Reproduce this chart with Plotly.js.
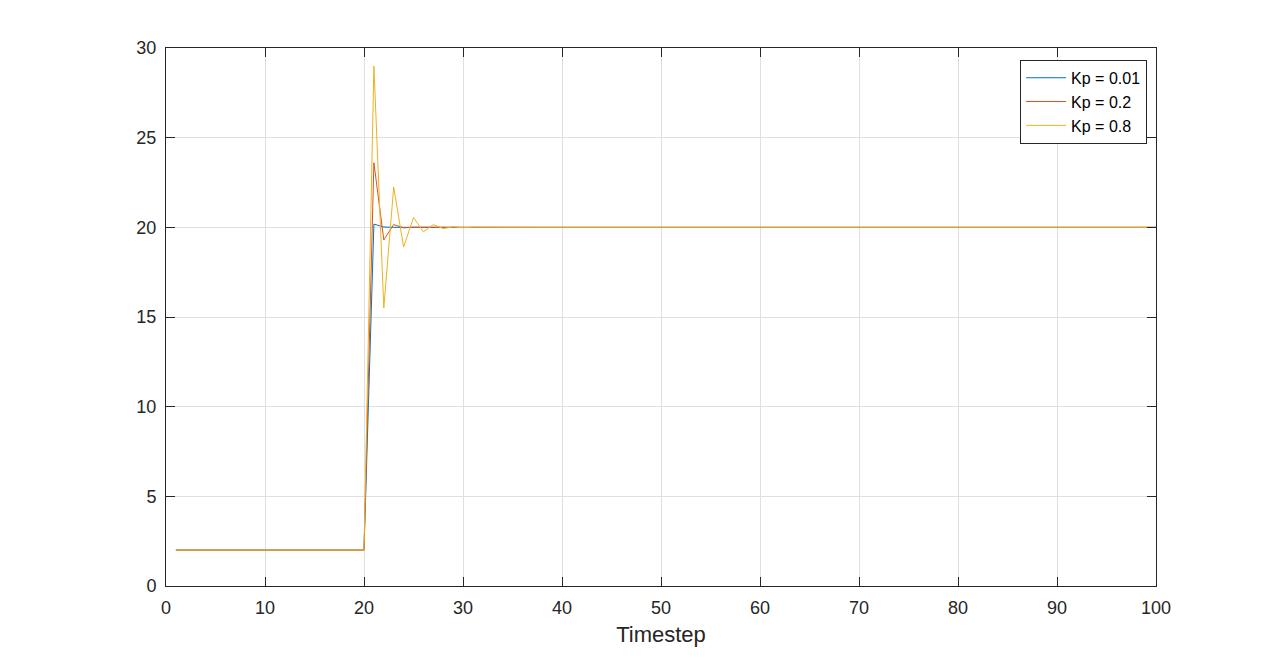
<!DOCTYPE html>
<html>
<head>
<meta charset="utf-8">
<script src="https://cdn.plot.ly/plotly-3.0.1.min.js"></script>
<style>html,body{margin:0;padding:0;background:#fff;}#chart{width:1278px;height:660px;}</style>
</head>
<body>
<div id="chart"></div>
<script>
var timestep = [1,2,3,4,5,6,7,8,9,10,11,12,13,14,15,16,17,18,19,20,21,22,23,24,25,26,27,28,29,30,31,32,33,34,35,36,37,38,39,40,41,42,43,44,45,46,47,48,49,50,51,52,53,54,55,56,57,58,59,60,61,62,63,64,65,66,67,68,69,70,71,72,73,74,75,76,77,78,79,80,81,82,83,84,85,86,87,88,89,90,91,92,93,94,95,96,97,98,99,100];

// steps 1-20, 21-30, 31-40, 41-50, 51-60, 61-70, 71-80, 81-90, 91-100
var kp001 = [2,2,2,2,2,2,2,2,2,2,2,2,2,2,2,2,2,2,2,2,
  20.18,20.02,20,20,20,20,20,20,20,20,
  20,20,20,20,20,20,20,20,20,20,
  20,20,20,20,20,20,20,20,20,20,
  20,20,20,20,20,20,20,20,20,20,
  20,20,20,20,20,20,20,20,20,20,
  20,20,20,20,20,20,20,20,20,20,
  20,20,20,20,20,20,20,20,20,20,
  20,20,20,20,20,20,20,20,20,20];

var kp02 = [2,2,2,2,2,2,2,2,2,2,2,2,2,2,2,2,2,2,2,2,
  23.6,19.3,20.15,19.97,20.01,20,20,20,20,20,
  20,20,20,20,20,20,20,20,20,20,
  20,20,20,20,20,20,20,20,20,20,
  20,20,20,20,20,20,20,20,20,20,
  20,20,20,20,20,20,20,20,20,20,
  20,20,20,20,20,20,20,20,20,20,
  20,20,20,20,20,20,20,20,20,20,
  20,20,20,20,20,20,20,20,20,20];

var kp08 = [2,2,2,2,2,2,2,2,2,2,2,2,2,2,2,2,2,2,2,2,
  29.0,15.5,22.25,18.9,20.55,19.75,20.15,19.93,20.03,19.98,
  20.01,20,20,20,20,20,20,20,20,20,
  20,20,20,20,20,20,20,20,20,20,
  20,20,20,20,20,20,20,20,20,20,
  20,20,20,20,20,20,20,20,20,20,
  20,20,20,20,20,20,20,20,20,20,
  20,20,20,20,20,20,20,20,20,20,
  20,20,20,20,20,20,20,20,20,20];

var seriesNames = ['Kp = 0.01', 'Kp = 0.2', 'Kp = 0.8'];
var seriesColors = ['#0072BD', '#D95319', '#EDB120'];
var seriesValues = [kp001, kp02, kp08];

var traces = seriesValues.map(function(v, i) {
  return {x: timestep, y: v, type: 'scatter', mode: 'lines', name: seriesNames[i],
          line: {color: seriesColors[i], width: 1}};
});

var axisCommon = {
  showline: true, linecolor: '#262626', linewidth: 1, mirror: 'ticks',
  ticks: 'inside', ticklen: 9, tickcolor: '#262626', tickwidth: 1,
  showgrid: true, gridcolor: '#dfdfdf', gridwidth: 1, zeroline: false,
  ticklabelstandoff: 5,
  tickfont: {family: 'Liberation Sans, Arial, sans-serif', size: 18, color: '#262626'}
};

var layout = {
  width: 1278, height: 660,
  margin: {l: 166, r: 122, t: 48, b: 74},
  paper_bgcolor: '#ffffff', plot_bgcolor: '#ffffff',
  font: {family: 'Liberation Sans, Arial, sans-serif', color: '#262626'},
  xaxis: Object.assign({}, axisCommon, {range: [0, 100], dtick: 10, tick0: 0,
    title: {text: 'Timestep', font: {size: 22, color: '#262626'}, standoff: 10}}),
  yaxis: Object.assign({}, axisCommon, {range: [0, 30], dtick: 5, tick0: 0}),
  showlegend: true,
  legend: {x: 0.991, y: 0.978, xanchor: 'right', yanchor: 'top',
    bgcolor: '#ffffff', bordercolor: '#262626', borderwidth: 1,
    font: {size: 16, color: '#000000'}, tracegroupgap: 0, itemwidth: 40}
};

Plotly.newPlot('chart', traces, layout, {displayModeBar: false, staticPlot: true});
</script>
</body>
</html>
